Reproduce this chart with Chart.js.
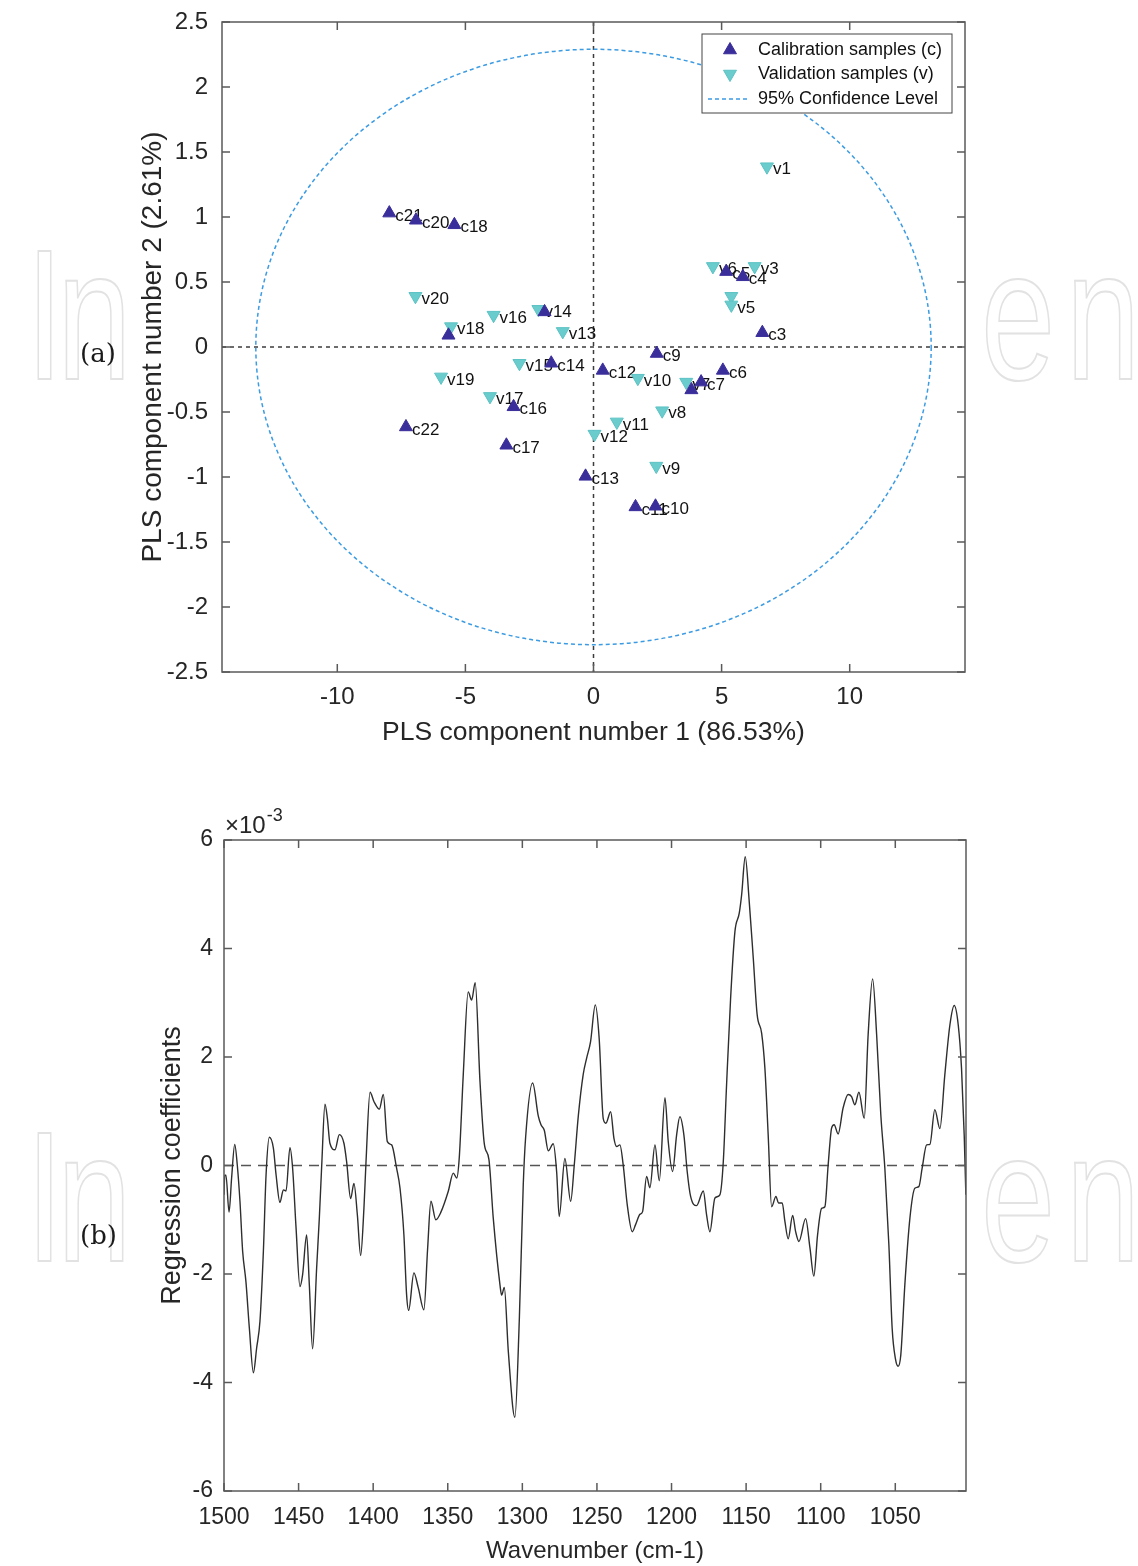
<!DOCTYPE html>
<html>
<head>
<meta charset="utf-8">
<title>PLS scores and regression coefficients</title>
<script src="https://cdn.jsdelivr.net/npm/chart.js@4.4.0/dist/chart.umd.min.js"></script>
<style>
    html, body { margin: 0; padding: 0; background: #fff; }
    body { width: 1138px; height: 1566px; position: relative; overflow: hidden; }
    .panel { position: absolute; left: 0; }
    .tag { position: absolute; font-family: "DejaVu Serif", "Liberation Serif", serif; font-size: 26px; color: #1a1a1a; }
    /* faint publisher watermark showing at the page margins */
    .mark { position: absolute; font-family: "Liberation Sans", sans-serif;
            font-size: 185px; line-height: 1; color: transparent;
            -webkit-text-stroke: 2px #e2e2e2; white-space: nowrap;
            transform: scaleX(0.72); transform-origin: left top; }
    .cover { position: absolute; left: 126px; width: 858px; top: 0; height: 1566px; background: #fff; }
</style>
</head>
<body>
<div class="mark" style="left:26px; top:223px; letter-spacing:-8px;">In</div>
<div class="mark" style="left:981px; top:223px; letter-spacing:15px;">en</div>
<div class="mark" style="left:26px; top:1105px; letter-spacing:-8px;">In</div>
<div class="mark" style="left:981px; top:1105px; letter-spacing:15px;">en</div>
<div class="cover"></div>
<div class="panel" style="top:0;"><canvas id="scoreChart" width="1138" height="770"></canvas></div>
<div class="panel" style="top:770px;"><canvas id="coefChart" width="1138" height="796"></canvas></div>
<div class="tag" style="left:80px; top:338px;">(a)</div>
<div class="tag" style="left:80px; top:1220px;">(b)</div>
<script>
// ---- (a) PLS scores ----
var calLabels = ['c21', 'c20', 'c18', '', '', 'c14', 'c12', 'c16', 'c22', 'c17', 'c13',
                 'c3', 'c9', 'c7', '', 'c6', 'c11', 'c10', 'c5', 'c4'];
var calX = [-7.97, -6.93, -5.43, -1.91, -5.66, -1.65, 0.36, -3.12, -7.32, -3.40, -0.31,
            6.59, 2.47, 4.20, 3.82, 5.05, 1.64, 2.42, 5.18, 5.83];
var calY = [1.03, 0.975, 0.94, 0.27, 0.09, -0.125, -0.18, -0.46, -0.615, -0.756, -0.995,
            0.11, -0.05, -0.27, -0.33, -0.18, -1.23, -1.225, 0.58, 0.54];

var valLabels = ['v1', 'v6', 'v3', '', 'v5', 'v20', 'v16', 'v14', 'v18', 'v13', 'v15',
                 'v19', 'v17', 'v12', 'v10', 'v7', 'v8', 'v11', 'v9'];
var valX = [6.77, 4.66, 6.29, 5.38, 5.38, -6.95, -3.90, -2.15, -5.56, -1.20, -2.89,
            -5.95, -4.04, 0.04, 1.73, 3.62, 2.68, 0.91, 2.45];
var valY = [1.387, 0.62, 0.62, 0.39, 0.324, 0.39, 0.245, 0.29, 0.157, 0.12, -0.125,
            -0.23, -0.38, -0.67, -0.24, -0.27, -0.49, -0.576, -0.916];

// 95% confidence ellipse, semi axes
var ellipseRadiusX = 13.18;
var ellipseRadiusY = 2.29;

var scoreXTicks = [-10, -5, 0, 5, 10];
var scoreYTicks = [2.5, 2, 1.5, 1, 0.5, 0, -0.5, -1, -1.5, -2, -2.5];

// ---- (b) regression coefficients (values in units of 1e-3) ----
var wavenumbers = [
    1500.0, 1499.5, 1498.7, 1496.6, 1494.9, 1492.8, 1491.1, 1489.3, 1487.5, 1485.3,
    1483.0, 1480.3, 1478.1, 1475.9, 1473.6, 1471.8, 1469.6, 1466.9, 1465.1, 1462.5,
    1460.2, 1458.4, 1455.8, 1454.0, 1451.7, 1449.1, 1447.3, 1444.6, 1442.8, 1440.6,
    1437.9, 1436.1, 1434.5, 1432.3, 1430.7, 1429.0, 1425.6, 1422.7, 1419.6, 1417.8,
    1415.1, 1412.9, 1410.6, 1408.4, 1406.2, 1404.8, 1402.1, 1399.5, 1395.9, 1393.2,
    1390.5, 1387.6, 1384.3, 1382.0, 1379.4, 1377.6, 1376.2, 1372.7, 1369.8, 1366.0,
    1363.5, 1361.3, 1358.0, 1354.6, 1349.7, 1346.3, 1344.0, 1342.3, 1339.6, 1336.3,
    1334.0, 1331.6, 1328.4, 1325.5, 1322.4, 1319.5, 1315.0, 1313.9, 1312.1, 1309.4,
    1305.0, 1302.0, 1299.4, 1297.8, 1293.1, 1289.3, 1287.5, 1285.3, 1282.6, 1279.3,
    1277.0, 1275.3, 1271.5, 1267.6, 1265.2, 1262.5, 1259.2, 1256.9, 1254.3, 1251.1,
    1248.5, 1245.8, 1244.0, 1240.8, 1238.6, 1236.8, 1234.6, 1232.4, 1229.7, 1226.3,
    1224.1, 1221.2, 1219.4, 1216.7, 1214.5, 1211.1, 1208.2, 1204.4, 1202.2, 1199.3,
    1196.6, 1194.4, 1191.7, 1189.5, 1187.2, 1183.2, 1178.7, 1176.5, 1174.3, 1170.9,
    1167.6, 1165.3, 1163.1, 1160.4, 1157.5, 1154.6, 1153.0, 1150.6, 1147.9, 1145.2,
    1142.6, 1139.6, 1137.4, 1135.2, 1132.9, 1130.0, 1128.3, 1125.8, 1124.0, 1121.8,
    1118.8, 1116.8, 1114.6, 1110.1, 1107.2, 1104.6, 1102.1, 1099.4, 1097.2, 1095.0,
    1092.7, 1091.0, 1088.3, 1085.0, 1081.6, 1079.3, 1077.1, 1074.4, 1070.8, 1068.2,
    1065.2, 1062.5, 1059.7, 1057.0, 1054.3, 1052.1, 1049.8, 1048.1, 1046.3, 1043.6,
    1040.2, 1036.9, 1034.2, 1032.0, 1029.0, 1026.8, 1023.5, 1020.1, 1016.8, 1013.4,
    1010.5, 1007.8, 1005.6, 1003.8, 1002.7
];
var coefficients = [
    -0.54, -0.18, -0.18, -0.86, -0.23, 0.39, 0.01, -0.66, -1.58, -2.14,
    -3.00, -3.82, -3.36, -2.87, -1.58, -0.17, 0.52, 0.32, -0.17, -0.68,
    -0.45, -0.47, 0.33, -0.05, -1.15, -2.23, -2.01, -1.28, -2.20, -3.38,
    -1.89, -0.97, 0.00, 1.13, 0.87, 0.41, 0.29, 0.57, 0.41, 0.07,
    -0.61, -0.33, -0.91, -1.66, -0.79, 0.07, 1.35, 1.18, 1.04, 1.31,
    0.44, 0.38, -0.05, -0.42, -1.28, -2.38, -2.67, -1.98, -2.25, -2.66,
    -1.53, -0.66, -1.00, -0.86, -0.48, -0.14, -0.23, 0.14, 1.68, 3.20,
    3.05, 3.37, 1.55, 0.40, 0.11, -0.97, -2.20, -2.39, -2.25, -3.43,
    -4.64, -2.81, -0.36, 0.52, 1.52, 0.91, 0.75, 0.65, 0.27, 0.40,
    -0.12, -0.94, 0.13, -0.66, 0.01, 0.91, 1.68, 1.98, 2.28, 2.96,
    2.34, 0.87, 0.78, 0.99, 0.50, 0.35, 0.38, 0.01, -0.72, -1.22,
    -1.09, -0.90, -0.85, -0.20, -0.41, 0.38, -0.28, 1.25, 0.44, -0.11,
    0.56, 0.90, 0.56, -0.11, -0.57, -0.74, -0.47, -0.91, -1.22, -0.60,
    -0.54, 0.07, 1.49, 3.08, 4.31, 4.65, 4.99, 5.69, 4.86, 3.82,
    2.78, 2.44, 1.79, 0.56, -0.76, -0.57, -0.69, -0.69, -1.03, -1.35,
    -0.92, -1.22, -1.40, -0.98, -1.52, -2.04, -1.28, -0.79, -0.76, 0.01,
    0.69, 0.75, 0.58, 1.06, 1.31, 1.27, 1.12, 1.35, 0.87, 2.41,
    3.44, 2.41, 0.93, -0.05, -1.46, -3.00, -3.58, -3.70, -3.49, -2.20,
    -0.97, -0.42, -0.39, -0.05, 0.38, 0.39, 1.03, 0.68, 1.67, 2.59,
    2.95, 2.59, 1.79, 0.56, -0.54
];

var coefXTicks = [1500, 1450, 1400, 1350, 1300, 1250, 1200, 1150, 1100, 1050];
var coefYTicks = [6, 4, 2, 0, -2, -4, -6];

var AXIS_COLOR = '#5a5a5a';
var TEXT_COLOR = '#262626';

Chart.defaults.font.family = '"Liberation Sans", Arial, sans-serif';
Chart.defaults.color = TEXT_COLOR;

/**
 * MATLAB style box: border on four sides with ticks pointing inward
 */
var matlabBox = {
    id: 'matlabBox',
    afterDraw: function(chart) {
        var ctx = chart.ctx, a = chart.chartArea;
        var xs = chart.scales.x, ys = chart.scales.y;
        var len = 8;
        ctx.save();
        ctx.strokeStyle = AXIS_COLOR;
        ctx.lineWidth = 1.5;
        ctx.strokeRect(a.left, a.top, a.right - a.left, a.bottom - a.top);
        ctx.beginPath();
        xs.ticks.forEach(function(t) {
            var px = xs.getPixelForValue(t.value);
            ctx.moveTo(px, a.bottom); ctx.lineTo(px, a.bottom - len);
            ctx.moveTo(px, a.top); ctx.lineTo(px, a.top + len);
        });
        ys.ticks.forEach(function(t) {
            var py = ys.getPixelForValue(t.value);
            ctx.moveTo(a.left, py); ctx.lineTo(a.left + len, py);
            ctx.moveTo(a.right, py); ctx.lineTo(a.right - len, py);
        });
        ctx.stroke();
        ctx.restore();
    }
};

/**
 * Dashed zero lines drawn under the data
 */
var refLines = {
    id: 'refLines',
    beforeDatasetsDraw: function(chart, args, opts) {
        var ctx = chart.ctx, a = chart.chartArea;
        var xs = chart.scales.x, ys = chart.scales.y;
        ctx.save();
        ctx.strokeStyle = opts.color;
        ctx.lineWidth = opts.width;
        ctx.setLineDash(opts.dash);
        ctx.beginPath();
        (opts.x || []).forEach(function(v) {
            var px = xs.getPixelForValue(v);
            ctx.moveTo(px, a.top); ctx.lineTo(px, a.bottom);
        });
        (opts.y || []).forEach(function(v) {
            var py = ys.getPixelForValue(v);
            ctx.moveTo(a.left, py); ctx.lineTo(a.right, py);
        });
        ctx.stroke();
        ctx.restore();
    }
};

/**
 * Confidence ellipse, text labels next to the markers and the legend
 */
var scoreExtras = {
    id: 'scoreExtras',
    beforeDatasetsDraw: function(chart) {
        var ctx = chart.ctx;
        var xs = chart.scales.x, ys = chart.scales.y;
        var cx = xs.getPixelForValue(0), cy = ys.getPixelForValue(0);
        var rx = xs.getPixelForValue(ellipseRadiusX) - cx;
        var ry = cy - ys.getPixelForValue(ellipseRadiusY);
        ctx.save();
        ctx.strokeStyle = '#3b9be3';
        ctx.lineWidth = 1.5;
        ctx.setLineDash([4, 3]);
        ctx.beginPath();
        ctx.ellipse(cx, cy, rx, ry, 0, 0, Math.PI * 2);
        ctx.stroke();
        ctx.setLineDash([]);

        // labels sit under the markers like in the original figure
        ctx.font = '17px "Liberation Sans", Arial, sans-serif';
        ctx.fillStyle = '#111';
        ctx.textBaseline = 'middle';
        chart.data.datasets.forEach(function(ds, i) {
            var meta = chart.getDatasetMeta(i);
            meta.data.forEach(function(pt, j) {
                var txt = ds.pointLabels[j];
                if (txt) ctx.fillText(txt, pt.x + 6, pt.y + 3);
            });
        });
        ctx.restore();
    },
    afterDraw: function(chart) {
        var ctx = chart.ctx, a = chart.chartArea;
        var w = 250, h = 79;
        var left = a.right - 13 - w, top = a.top + 12;
        ctx.save();
        ctx.fillStyle = '#fff';
        ctx.fillRect(left, top, w, h);
        ctx.strokeStyle = '#444';
        ctx.lineWidth = 1;
        ctx.strokeRect(left, top, w, h);
        ctx.font = '18px "Liberation Sans", Arial, sans-serif';
        ctx.textBaseline = 'middle';
        var rows = [16, 40, 65];
        chart.data.datasets.forEach(function(ds, i) {
            ctx.fillStyle = ds.backgroundColor;
            ctx.strokeStyle = ds.borderColor;
            ctx.lineWidth = 1;
            Chart.helpers.drawPoint(ctx, {
                pointStyle: ds.pointStyle, radius: ds.pointRadius,
                rotation: ds.pointRotation, borderWidth: 1
            }, left + 28, top + rows[i]);
            ctx.fillStyle = '#111';
            ctx.fillText(ds.label, left + 56, top + rows[i]);
        });
        ctx.strokeStyle = '#3b9be3';
        ctx.lineWidth = 1.5;
        ctx.setLineDash([4, 3]);
        ctx.beginPath();
        ctx.moveTo(left + 6, top + rows[2]);
        ctx.lineTo(left + 48, top + rows[2]);
        ctx.stroke();
        ctx.setLineDash([]);
        ctx.fillStyle = '#111';
        ctx.fillText('95% Confidence Level', left + 56, top + rows[2]);
        ctx.restore();
    }
};

/**
 * Exponent label above the y axis of panel (b)
 */
var exponentLabel = {
    id: 'exponentLabel',
    afterDraw: function(chart) {
        var ctx = chart.ctx, a = chart.chartArea;
        ctx.save();
        ctx.fillStyle = TEXT_COLOR;
        ctx.textBaseline = 'alphabetic';
        ctx.font = '24px "Liberation Sans", Arial, sans-serif';
        ctx.fillText('\u00d710', a.left + 1, a.top - 7);
        var wBase = ctx.measureText('\u00d710').width;
        ctx.font = '18px "Liberation Sans", Arial, sans-serif';
        ctx.fillText('-3', a.left + 2 + wBase, a.top - 19);
        ctx.restore();
    }
};

function fixedTicks(values) {
    return function(scale) {
        scale.ticks = values.map(function(v) { return { value: v }; });
    };
}

// keep the plot box exactly where the layout padding puts it
function fixWidth(w) {
    return function(scale) {
        scale.width = w;
        scale.paddingTop = 0;
        scale.paddingBottom = 0;
    };
}
function fixHeight(h) {
    return function(scale) {
        scale.height = h;
        scale.paddingLeft = 0;
        scale.paddingRight = 0;
    };
}

function initScoreChart() {
    var ctx = document.getElementById('scoreChart').getContext('2d');
    var calPoints = calX.map(function(x, i) { return { x: x, y: calY[i] }; });
    var valPoints = valX.map(function(x, i) { return { x: x, y: valY[i] }; });

    new Chart(ctx, {
        type: 'scatter',
        data: {
            datasets: [{
                label: 'Calibration samples (c)',
                data: calPoints,
                pointLabels: calLabels,
                pointStyle: 'triangle',
                pointRotation: 0,
                pointRadius: 7.5,
                backgroundColor: '#3a2e9b',
                borderColor: '#3a2e9b',
                borderWidth: 1
            }, {
                label: 'Validation samples (v)',
                data: valPoints,
                pointLabels: valLabels,
                pointStyle: 'triangle',
                pointRotation: 180,
                pointRadius: 7.5,
                backgroundColor: '#6acccc',
                borderColor: '#5cc2c4',
                borderWidth: 1
            }]
        },
        options: {
            responsive: false,
            animation: false,
            layout: { padding: { left: 0, top: 22, right: 173, bottom: 0 } },
            plugins: {
                legend: { display: false },
                tooltip: { enabled: false },
                refLines: { x: [0], y: [0], color: '#3c3c3c', width: 1.5, dash: [4, 4] }
            },
            scales: {
                x: {
                    type: 'linear',
                    min: -14.5,
                    max: 14.5,
                    afterBuildTicks: fixedTicks(scoreXTicks),
                    afterFit: fixHeight(98),
                    grid: { display: false, drawTicks: false },
                    border: { display: false },
                    ticks: { padding: 11, font: { size: 24 }, color: TEXT_COLOR,
                             callback: function(v) { return String(v); } },
                    title: { display: true, text: 'PLS component number 1 (86.53%)',
                             font: { size: 26.5 }, color: TEXT_COLOR, padding: { top: 0, bottom: 21 } }
                },
                y: {
                    type: 'linear',
                    min: -2.5,
                    max: 2.5,
                    afterBuildTicks: fixedTicks(scoreYTicks),
                    afterFit: fixWidth(222),
                    grid: { display: false, drawTicks: false },
                    border: { display: false },
                    ticks: { padding: 14, font: { size: 24 }, color: TEXT_COLOR,
                             callback: function(v) { return String(v); } },
                    title: { display: true, text: 'PLS component number 2 (2.61%)',
                             font: { size: 28 }, color: TEXT_COLOR, padding: { top: 136, bottom: 0 } }
                }
            }
        },
        plugins: [refLines, scoreExtras, matlabBox]
    });
}

function initCoefChart() {
    var ctx = document.getElementById('coefChart').getContext('2d');
    var points = wavenumbers.map(function(w, i) { return { x: w, y: coefficients[i] }; });

    new Chart(ctx, {
        type: 'line',
        data: {
            datasets: [{
                label: 'Regression coefficients',
                data: points,
                borderColor: '#2e2e2e',
                borderWidth: 1.4,
                pointRadius: 0,
                fill: false,
                cubicInterpolationMode: 'monotone'
            }]
        },
        options: {
            responsive: false,
            animation: false,
            layout: { padding: { left: 0, top: 70, right: 172, bottom: 0 } },
            plugins: {
                legend: { display: false },
                tooltip: { enabled: false },
                refLines: { y: [0], color: '#555', width: 1.5, dash: [10, 7] }
            },
            scales: {
                x: {
                    type: 'linear',
                    reverse: true,
                    min: 1002.6,
                    max: 1500,
                    afterBuildTicks: fixedTicks(coefXTicks),
                    afterFit: fixHeight(75),
                    grid: { display: false, drawTicks: false },
                    border: { display: false },
                    ticks: { padding: 13, font: { size: 23 }, color: TEXT_COLOR,
                             callback: function(v) { return String(v); } },
                    title: { display: true, text: 'Wavenumber (cm-1)',
                             font: { size: 24 }, color: TEXT_COLOR, padding: { top: 0, bottom: 0 } }
                },
                y: {
                    type: 'linear',
                    min: -6,
                    max: 6,
                    afterBuildTicks: fixedTicks(coefYTicks),
                    afterFit: fixWidth(224),
                    grid: { display: false, drawTicks: false },
                    border: { display: false },
                    ticks: { padding: 11, font: { size: 23 }, color: TEXT_COLOR,
                             callback: function(v) { return String(v); } },
                    title: { display: true, text: 'Regression coefficients',
                             font: { size: 27 }, color: TEXT_COLOR, padding: { top: 156, bottom: 0 } }
                }
            }
        },
        plugins: [refLines, exponentLabel, matlabBox]
    });
}

initScoreChart();
initCoefChart();
</script>
</body>
</html>
